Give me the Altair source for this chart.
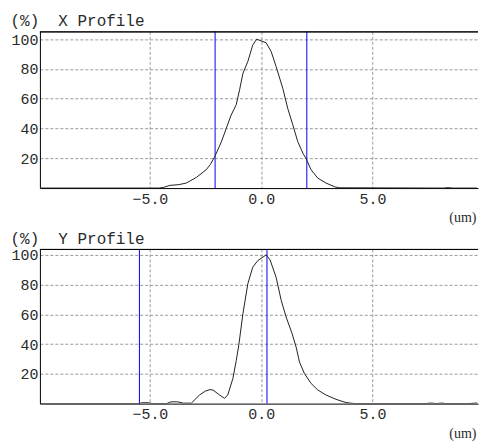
import altair as alt
import pandas as pd

# ---- data ----
xp_pos = [-9.9, -4.6, -4.4, -4.1, -3.7, -3.36, -2.91, -2.47, -2.29, -2.09, -1.79, -1.57,
          -1.35, -1.12, -0.97, -0.82, -0.6, -0.38, -0.2, 0.0, 0.22, 0.45, 0.67, 0.97,
          1.19, 1.42, 1.64, 1.87, 2.02, 2.24, 2.54, 2.91, 3.29, 3.5, 8.2, 8.4, 8.6, 9.7]
xp_val = [0, 0, 0.4, 1.8, 2.3, 3.4, 7.2, 12.3, 15.7, 21, 31, 40,
          49, 56, 66, 77, 85, 96, 100, 98.8, 97.6, 91.6, 81.6, 67,
          53.6, 42.5, 31.3, 23.5, 19.7, 12.3, 6.7, 3.4, 0.9, 0.2, 0, 0.3, 0, 0]

yp_pos = [-9.9, -5.5, -5.35, -5.05, -4.9, -4.25, -4.05, -3.75, -3.5, -3.14, -2.77, -2.5,
          -2.3, -2.17, -1.87, -1.65, -1.5, -1.27, -1.12, -1.0, -0.82, -0.6, -0.38, -0.15,
          0.07, 0.22, 0.4, 0.67, 0.9, 1.12, 1.39, 1.57, 1.72, 1.94, 2.24, 2.54,
          2.91, 3.36, 3.81, 4.2, 7.4, 7.6, 7.9, 8.1, 8.3, 9.3, 9.7]
yp_val = [0, 0, 0.6, 0.6, 0, 0, 1.2, 1.2, 0.3, 0.3, 5.8, 8.5,
          9.4, 9.2, 5.8, 3.6, 5.8, 17, 29, 40, 60.5, 80.6, 91.7, 96.2,
          98.4, 100, 96.6, 85, 69.4, 58.2, 47, 38, 28, 20.3, 13.6, 9.2,
          5.8, 2.9, 0.7, 0, 0, 0.4, 0, 0.4, 0, 0, 0.4]

x_markers = [-2.07, 2.05]
y_markers = [-5.47, 0.26]

x_ticks = [-5, 0, 5]
y_ticks = [20, 40, 60, 80, 100]

FONT = "Liberation Mono"
TXT = "#2a2a2a"
GRID = "#9a9a9a"
W = 439


def panel(pos, val, markers, name, h, ytop):
    df = pd.DataFrame({"pos": pos, "val": val})
    mk = pd.DataFrame({"pos": markers})
    xscale = alt.Scale(domain=[-9.94, 9.74], nice=False, zero=False)
    yscale = alt.Scale(domain=[0, ytop], nice=False)
    xaxis = alt.Axis(values=x_ticks, format=".1f", grid=True, gridDash=[3, 2],
                     gridColor=GRID, gridWidth=1, ticks=False, labelPadding=3,
                     labelFont=FONT, labelFontSize=15, labelColor=TXT,
                     domainColor="#000", domainWidth=1,
                     title="(um)", titleFont="Liberation Serif", titleFontSize=14,
                     titleFontWeight="normal", titleColor=TXT, titleAlign="right",
                     titleBaseline="middle", titleX=437, titleY=30)
    yaxis = alt.Axis(values=y_ticks, grid=True, gridDash=[3, 2], gridColor=GRID,
                     gridWidth=1, ticks=False, labelPadding=2, labelFont=FONT,
                     labelFontSize=15, labelColor=TXT, domainColor="#000",
                     domainWidth=1,
                     title="(%)\u00a0\u00a0" + name, titleFont=FONT, titleFontSize=16,
                     titleFontWeight="normal", titleColor=TXT, titleAngle=0,
                     titleAlign="left", titleBaseline="middle", titleX=-30, titleY=-10.5)
    line = alt.Chart(df).mark_line(color="#222", strokeWidth=1, clip=True).encode(
        x=alt.X("pos:Q", scale=xscale, axis=xaxis),
        y=alt.Y("val:Q", scale=yscale, axis=yaxis),
    )
    rules = alt.Chart(mk).mark_rule(color="#0000ff", strokeWidth=1).encode(
        x=alt.X("pos:Q", scale=xscale, axis=xaxis),
    )
    top = alt.Chart(mk).mark_rule(color="#000", strokeWidth=1).encode(
        y=alt.value(0.5),
    )
    return alt.layer(rules, line, top).properties(width=W, height=h)


top_panel = panel(xp_pos, xp_val, x_markers, "X Profile", 157, 105.2)
bot_panel = panel(yp_pos, yp_val, y_markers, "Y Profile", 155, 104.0)

chart = alt.vconcat(top_panel, bot_panel, spacing=61, bounds="flush").properties(
    padding={"left": 10, "top": 12, "right": 0, "bottom": 0},
    background="white",
).configure_view(stroke=None)

chart.save("out.html", embed_options={"renderer": "svg", "actions": False})
